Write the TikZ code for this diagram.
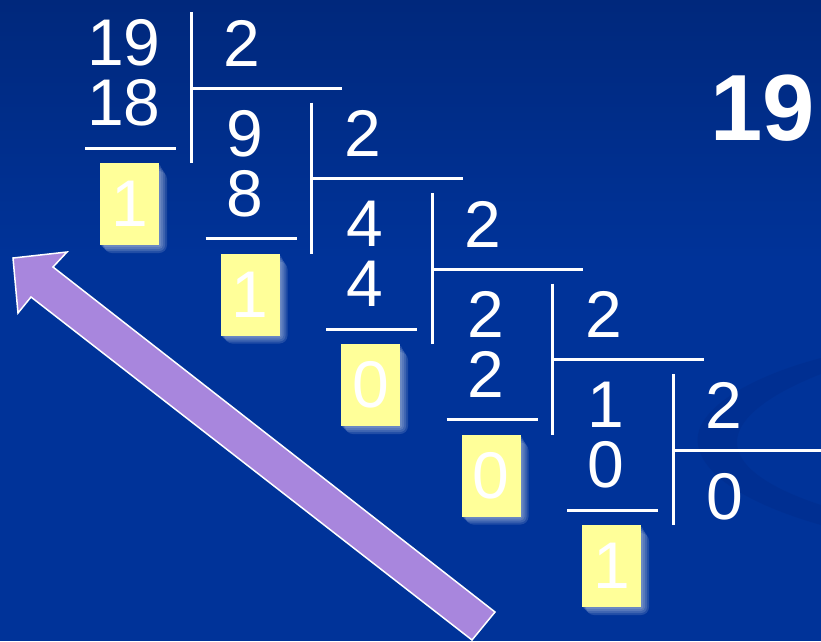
\documentclass[tikz,border=0pt]{standalone}
\usepackage{fontspec}
\setmainfont{Liberation Sans}
\usetikzlibrary{arrows.meta, positioning}

\definecolor{bgblue}{HTML}{003399}
\definecolor{bgtop}{HTML}{00287C}
\definecolor{swoosh}{HTML}{002C8A}
\definecolor{remyellow}{HTML}{FFFF99}
\definecolor{arrowpurple}{HTML}{A886DD}

\begin{document}
\begin{tikzpicture}[x=1pt,y=-1pt,
  num/.style={text=white,font=\fontsize{66}{66}\selectfont,inner sep=0pt},
  rule/.style={white,line width=3pt},
  rembox/.style={fill=remyellow,minimum width=59pt,minimum height=82pt,inner sep=0pt,
    text=white,font=\fontsize{66}{66}\selectfont}]
  \useasboundingbox (0,0) rectangle (821,641);
  \clip (0,0) rectangle (821,641);

  % background
  \fill[bgblue] (0,0) rectangle (821,641);
  \shade[top color=bgtop,bottom color=bgblue] (0,0) rectangle (821,260);
  \fill[swoosh,opacity=0.45] (821,358) .. controls (745,378) and (692,412) .. (698,445)
    .. controls (705,485) and (775,512) .. (821,525) -- (821,505)
    .. controls (775,490) and (735,468) .. (737,440)
    .. controls (740,410) and (790,386) .. (821,374) -- cycle;

  % division ladder
  \foreach \k/\a/\b/\r in {0/19/18/1, 1/9/8/1, 2/4/4/0, 3/2/2/0, 4/1/0/1}{
    \pgfmathsetmacro\xv{191+120.5*\k}
    \pgfmathsetmacro\yv{12+90.5*\k}
    \draw[rule] (\xv,\yv) -- (\xv,\yv+151);
    \draw[rule] (\xv,\yv+76) -- (\xv+151,\yv+76);
    \draw[rule] (\xv-106,\yv+136) -- (\xv-15,\yv+136);
    \node[num] (dvd\k) at (\xv-67,\yv+31) {\a};
    \node[num] (sub\k) at (\xv-67,\yv+91) {\b};
    \node[num] (dvs\k) at (\xv+51,\yv+31) {2};
    % glow behind the remainder
    \foreach \g in {2,4,6,8}
      \fill[white,opacity=0.13,rounded corners=\g pt]
        (\xv-91+\g/2,\yv+151+\g) rectangle (\xv-32+\g,\yv+233+\g);
    \node[rembox] (rem\k) at (\xv-61.5,\yv+192) {\r};
  }
  \node[num] (quo) at (725,497) {0};

  % title number
  \node[text=white,font=\bfseries\fontsize{94}{94}\selectfont,inner sep=0pt] (title) at (763,108) {19};

  % reading direction
  \fill[arrowpurple,draw=white,line width=1.5pt,line join=miter]
    (13,258) -- (67,252) -- (53,267) -- (495,612) -- (472,640)
    -- (31,297) -- (18,313) -- cycle;
\end{tikzpicture}
\end{document}
